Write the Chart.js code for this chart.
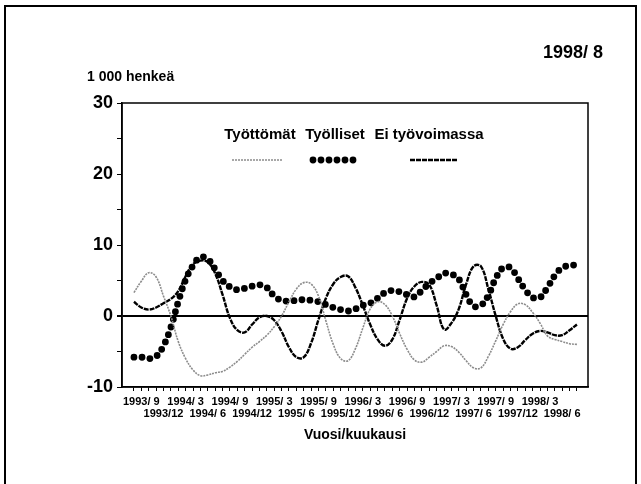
<!DOCTYPE html>
<html>
<head>
<meta charset="utf-8">
<script src="https://cdn.jsdelivr.net/npm/chart.js@4.4.1/dist/chart.umd.min.js"></script>
<style>
  body { margin: 0; background: #fff; }
  #wrap { position: relative; width: 641px; height: 484px; overflow: hidden; background: #fff; }
  #frame { position: absolute; left: 4px; top: 5px; width: 629px; height: 540px; border: 2px solid #000; }
  canvas { position: absolute; left: 0; top: 0; }
</style>
</head>
<body>
<div id="wrap"><div id="frame"></div><canvas id="chart" width="641" height="484"></canvas></div>
<script>
// kuukaudet 1993/8 - 1998/8
const months = [
  "1993/ 8", "1993/ 9", "1993/10", "1993/11", "1993/12",
  "1994/ 1", "1994/ 2", "1994/ 3", "1994/ 4", "1994/ 5", "1994/ 6", "1994/ 7", "1994/ 8", "1994/ 9", "1994/10", "1994/11", "1994/12",
  "1995/ 1", "1995/ 2", "1995/ 3", "1995/ 4", "1995/ 5", "1995/ 6", "1995/ 7", "1995/ 8", "1995/ 9", "1995/10", "1995/11", "1995/12",
  "1996/ 1", "1996/ 2", "1996/ 3", "1996/ 4", "1996/ 5", "1996/ 6", "1996/ 7", "1996/ 8", "1996/ 9", "1996/10", "1996/11", "1996/12",
  "1997/ 1", "1997/ 2", "1997/ 3", "1997/ 4", "1997/ 5", "1997/ 6", "1997/ 7", "1997/ 8", "1997/ 9", "1997/10", "1997/11", "1997/12",
  "1998/ 1", "1998/ 2", "1998/ 3", "1998/ 4", "1998/ 5", "1998/ 6", "1998/ 7", "1998/ 8"
];

const tyottomat = [
  3.3, 4.9, 6.1, 5.5, 2.8, 0.0, -3.6, -6.0, -7.6, -8.4,
  -8.3, -8.0, -7.8, -7.2, -6.4, -5.4, -4.4, -3.6, -2.7, -1.5,
  0.0, 2.0, 3.8, 4.7, 4.5, 2.8, -0.7, -4.0, -6.0, -6.3,
  -4.6, -1.7, 1.0, 2.0, 1.6, 0.0, -2.5, -4.7, -6.2, -6.5,
  -5.8, -5.0, -4.2, -4.3, -5.1, -6.3, -7.3, -7.3, -5.7, -3.5,
  -1.2, 0.6, 1.7, 1.6, 0.5, -1.0, -2.8, -3.3, -3.6, -3.9,
  -4.0
];

const tyolliset = [
  -5.8, -5.8, -6.0, -5.7, -4.2, -1.6, 2.0, 5.1, 7.1, 8.3,
  8.0, 6.6, 5.0, 4.1, 3.7, 3.9, 4.2, 4.4, 4.0, 2.8,
  2.2, 2.1, 2.2, 2.3, 2.2, 2.0, 1.6, 1.2, 0.9, 0.7,
  1.0, 1.5, 1.8, 2.5, 3.3, 3.6, 3.4, 3.0, 2.7, 3.6,
  4.6, 5.3, 6.0, 5.9, 5.2, 3.0, 1.4, 1.5, 2.9, 5.3,
  6.8, 6.8, 5.3, 3.7, 2.6, 2.6, 4.0, 5.7, 6.8, 7.1,
  7.2
];

const eiTyovoimassa = [
  2.0, 1.2, 0.9, 1.2, 1.8, 2.4, 3.5, 5.6, 7.3, 7.8,
  7.6, 6.0, 3.0, -0.3, -2.0, -2.3, -1.2, -0.2, 0.0, -0.6,
  -2.2, -4.4, -5.8, -5.8, -3.8, -0.5, 2.5, 4.5, 5.5, 5.6,
  4.0, 1.5, -1.2, -3.3, -4.2, -3.3, -0.5, 2.5, 4.2, 4.8,
  4.4, 1.5, -1.9, -1.0, 1.0, 4.5, 7.0, 7.0, 3.8, 0.0,
  -3.2, -4.6, -4.4, -3.4, -2.5, -2.1, -2.3, -2.7, -2.7, -2.0,
  -1.2
];

const seriesNames = ["Työttömät", "Työlliset", "Ei työvoimassa"];
const yTickLabels = [30, 20, 10, 0, -10];

const FONT = "'Liberation Sans', Arial, Helvetica, sans-serif";
Chart.defaults.font.family = FONT;
Chart.defaults.color = "#000";

const toPoints = (arr) => arr.map((v, i) => ({ x: i, y: v }));

// legend with text above the line sample, and texts outside the axes
const extras = {
  id: "extras",
  afterDraw(chart) {
    const ctx = chart.ctx;
    const a = chart.chartArea;
    ctx.save();
    // plot frame
    ctx.strokeStyle = "#000";
    ctx.lineWidth = 1.5;
    ctx.strokeRect(a.left, a.top, a.right - a.left, a.bottom - a.top);

    ctx.fillStyle = "#000";
    ctx.textBaseline = "middle";
    ctx.font = "bold 18px " + FONT;
    ctx.textAlign = "right";
    ctx.fillText("1998/ 8", 603, 53);
    ctx.font = "bold 14px " + FONT;
    ctx.textAlign = "left";
    ctx.fillText("1 000 henkeä", 87, 77);

    const legendX = [260, 335, 429];
    const sample = [[232, 282], [313, 360], [410, 458]];
    ctx.font = "bold 15px " + FONT;
    ctx.textAlign = "center";
    chart.data.datasets.forEach((ds, i) => {
      ctx.fillText(ds.label, legendX[i], 135);
      ctx.beginPath();
      ctx.strokeStyle = ds.borderColor;
      ctx.lineWidth = ds.borderWidth;
      ctx.lineCap = ds.borderCapStyle || "butt";
      ctx.setLineDash(ds.borderDash || []);
      ctx.moveTo(sample[i][0], 160);
      ctx.lineTo(sample[i][1], 160);
      ctx.stroke();
    });
    ctx.restore();
  }
};

new Chart(document.getElementById("chart"), {
  type: "line",
  data: {
    datasets: [
      {
        label: seriesNames[0],
        data: toPoints(tyottomat),
        borderColor: "#8c8c8c",
        borderWidth: 1.6,
        borderDash: [2, 1],
        pointRadius: 0,
        tension: 0.4,
      },
      {
        label: seriesNames[1],
        data: toPoints(tyolliset),
        borderColor: "#000",
        borderWidth: 6.8,
        borderDash: [0, 8],
        borderCapStyle: "round",
        pointRadius: 0,
        tension: 0.4,
      },
      {
        label: seriesNames[2],
        data: toPoints(eiTyovoimassa),
        borderColor: "#000",
        borderWidth: 2.4,
        borderDash: [5, 1],
        pointRadius: 0,
        tension: 0.4,
      },
    ],
  },
  options: {
    responsive: false,
    animation: false,
    layout: { padding: { left: 0, right: 53, top: 103, bottom: 36 } },
    plugins: { legend: { display: false }, tooltip: { enabled: false } },
    scales: {
      x: {
        type: "linear",
        min: -1.62,
        max: 61.5,
        afterBuildTicks: (scale) => {
          scale.ticks = months.map((m, i) => ({ value: i }));
        },
        afterFit: (scale) => { scale.height = 61; },
        border: { display: true, color: "#000", width: 1.5 },
        grid: { drawOnChartArea: false, tickLength: 4, tickColor: "#000", tickWidth: 1 },
        ticks: {
          autoSkip: false,
          maxRotation: 0,
          padding: 5,
          font: { size: 11, weight: "bold", lineHeight: 1.1 },
          callback: (value) => {
            const m = months[value];
            if (!m) return "";
            const mon = parseInt(m.split("/")[1]);
            if (mon === 3 || mon === 9) return [m, ""];
            if (mon === 6 || mon === 12) return ["", m];
            return "";
          },
        },
        title: {
          display: true,
          text: "Vuosi/kuukausi",
          font: { size: 14, weight: "bold" },
          padding: { top: 0, bottom: 4 },
        },
      },
      y: {
        min: -10,
        max: 30,
        afterFit: (scale) => { scale.width = 122; },
        border: { display: true, color: "#000", width: 1.5 },
        grid: {
          drawOnChartArea: true,
          tickLength: 5,
          tickColor: "#000",
          color: (c) => (c.tick && c.tick.value === 0 ? "#000" : "rgba(0,0,0,0)"),
          lineWidth: (c) => (c.tick && c.tick.value === 0 ? 2 : 1),
        },
        ticks: {
          stepSize: 5,
          padding: 4,
          font: { size: 18, weight: "bold" },
          callback: (value) => (yTickLabels.includes(value) ? String(value) : ""),
        },
      },
    },
  },
  plugins: [extras],
});
</script>
</body>
</html>
